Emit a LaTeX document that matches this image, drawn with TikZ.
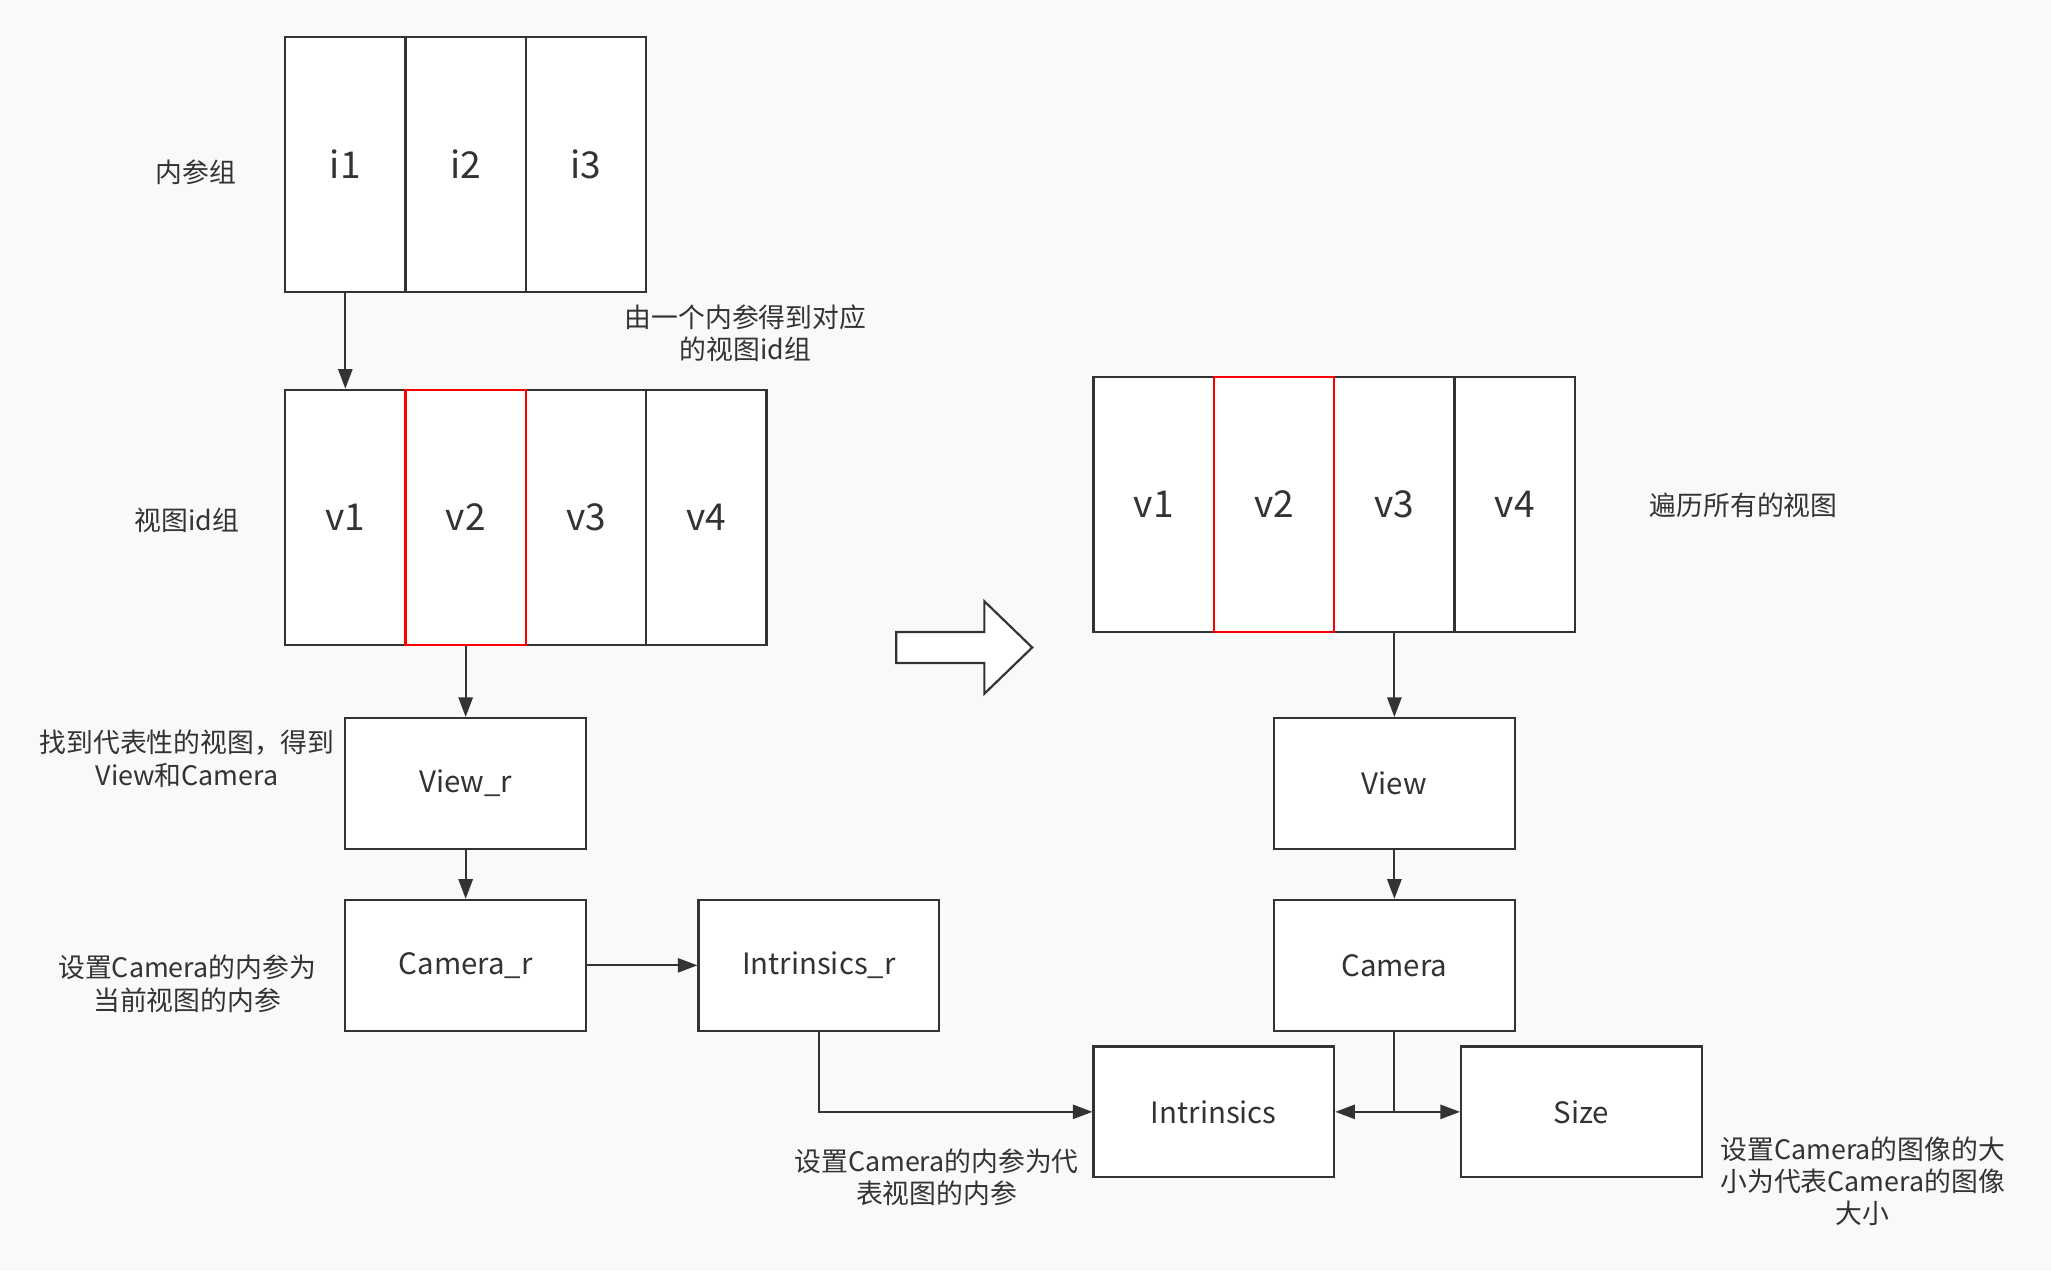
\documentclass[tikz,border=0pt]{standalone}
\usepackage{fontspec}
\setmainfont{Noto Sans CJK SC}
\usetikzlibrary{shapes,arrows.meta,positioning}
\definecolor{bgcol}{HTML}{F9F9F9}
\definecolor{linecol}{HTML}{333333}

\begin{document}
\begin{tikzpicture}[x=0.6pt, y=-0.6pt]
      \tikzstyle{cell} = [rectangle, draw=linecol, line width=1pt, fill=white, minimum width=92*0.6pt, minimum height=195*0.6pt, inner sep=0pt, font=\fontsize{17}{20}\selectfont, text=linecol]
      \tikzstyle{redcell} = [cell, draw=red]
      \tikzstyle{box} = [rectangle, draw=linecol, line width=1pt, fill=white, minimum width=184*0.6pt, minimum height=100*0.6pt, inner sep=0pt, font=\fontsize{13.5}{16}\selectfont, text=linecol]
      \tikzstyle{note} = [align=center, font=\fontsize{12.3}{14.8}\selectfont, text=linecol]
      \tikzstyle{link} = [-{Triangle[length=9pt, width=6.5pt]}, draw=linecol, line width=1pt]

      \fill[bgcol] (0,0) rectangle (1568,972);
      \useasboundingbox (0,0) rectangle (1568,972);

      % intrinsics group
      \node[cell] (i1) at (264,125.5) {i1};
      \node[cell] (i2) at (356,125.5) {i2};
      \node[cell] (i3) at (448,125.5) {i3};
      \node[note] (lblI) at (150,132) {内参组};

      % view id group (left)
      \node[cell] (lv1) at (264,395.5) {v1};
      \node[cell] (lv3) at (448,395.5) {v3};
      \node[cell] (lv4) at (540,395.5) {v4};
      \node[redcell] (lv2) at (356,395.5) {v2};
      \node[note] (lblV) at (143,398) {视图id组};
      \node[note] (lblIV) at (570,255) {由一个内参得到对应\\的视图id组};

      % representative view
      \node[box] (viewr) at (356,599) {View\_r};
      \node[box] (camr) at (356,738) {Camera\_r};
      \node[box] (intrr) at (626,738) {Intrinsics\_r};
      \node[note] (lblRep) at (143,580) {找到代表性的视图，得到\\View和Camera};
      \node[note] (lblSet) at (143,752) {设置Camera的内参为\\当前视图的内参};

      % big arrow
      \node[single arrow, draw=linecol, line width=1pt, fill=white, inner xsep=0pt, inner ysep=6.6pt, minimum height=104*0.6pt, single arrow head extend=14.1pt, single arrow tip angle=88] (bigarrow) at (731,495) {};

      % view id group (right)
      \node[cell] (rv1) at (882,385.5) {v1};
      \node[cell] (rv3) at (1066,385.5) {v3};
      \node[cell] (rv4) at (1158,385.5) {v4};
      \node[redcell] (rv2) at (974,385.5) {v2};
      \node[note] (lblAll) at (1333,386) {遍历所有的视图};

      % loop body
      \node[box] (view) at (1066,599) {View};
      \node[box] (cam) at (1066,738) {Camera};
      \node[box] (intr) at (928,850) {Intrinsics};
      \node[box] (size) at (1209,850) {Size};
      \node[note] (lblIntr) at (716,900) {设置Camera的内参为代\\表视图的内参};
      \node[note] (lblSize) at (1424,903) {设置Camera的图像的大\\小为代表Camera的图像\\大小};

      \draw[link] (i1) -- (lv1);
      \draw[link] (lv2) -- (viewr);
      \draw[link] (viewr) -- (camr);
      \draw[link] (camr) -- (intrr);
      \draw[link] (intrr.south) |- (intr.west);
      \draw[link] (rv3) -- (view);
      \draw[link] (view) -- (cam);
      \draw[link] (cam.south) |- (intr.east);
      \draw[link] (cam.south) |- (size.west);
    \end{tikzpicture}
\end{document}
